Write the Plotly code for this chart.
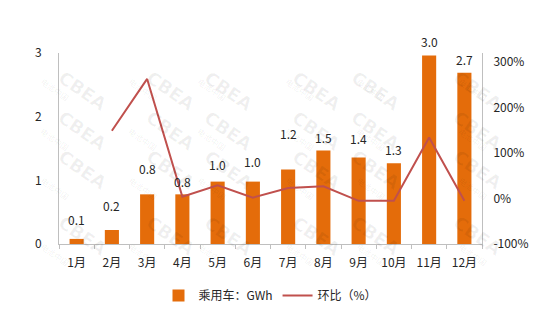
import plotly.graph_objects as go

# Monthly passenger-car battery installations (GWh) and month-on-month change (%)
months = ["1月", "2月", "3月", "4月", "5月", "6月", "7月", "8月", "9月", "10月", "11月", "12月"]
volume_gwh = [0.08, 0.22, 0.78, 0.78, 0.98, 0.98, 1.17, 1.47, 1.36, 1.27, 2.96, 2.69]
mom_pct = [None, 149, 263, 4, 29, 2, 23, 27, -5, -5, 134, -5]

# vertical offsets (px) of the value labels above each bar
label_shift = [19, 24, 26, 13, 17, 20, 36, 13, 19, 14, 14, 13]

BAR_COLOR = "#E46C0A"
LINE_COLOR = "#C0504D"
TEXT_COLOR = "#262626"
AXIS_COLOR = "#BFBFBF"
FONT = "Noto Sans CJK SC, Noto Sans, sans-serif"

fig = go.Figure()
fig.add_trace(go.Bar(
    x=months, y=volume_gwh, name="乘用车：GWh",
    marker=dict(color=BAR_COLOR, line=dict(width=0)),
    yaxis="y",
))
fig.add_trace(go.Scatter(
    x=months, y=mom_pct, name="环比（%）", mode="lines",
    line=dict(color=LINE_COLOR, width=2),
    connectgaps=False, yaxis="y2",
))

PL, PR, PT, PB = 59, 482, 53, 244


def px_to_paper(x, y):
    return (x - PL) / (PR - PL), (PB - y) / (PB - PT)


annotations = []
# faint CBEA watermark tiles
for row_y in [64, 130, 196, 262]:
    for col_x in [52, 140, 228, 316, 406, 508]:
        x, y = px_to_paper(col_x, row_y)
        annotations.append(dict(
            x=x, y=y, xref="paper", yref="paper", text="<b>CBEA</b>",
            showarrow=False, textangle=35,
            font=dict(family="DejaVu Sans, sans-serif", size=18,
                      color="rgba(0,0,0,0.06)"),
        ))
        x, y = px_to_paper(col_x - 16, row_y + 9)
        annotations.append(dict(
            x=x, y=y, xref="paper", yref="paper", text="电池中国",
            showarrow=False, textangle=35,
            font=dict(family=FONT, size=8, color="rgba(0,0,0,0.07)"),
        ))

# value labels above the bars
for m, v, s in zip(months, volume_gwh, label_shift):
    annotations.append(dict(
        x=m, y=v, xref="x", yref="y", text=f"{v:.1f}", showarrow=False,
        yanchor="middle", yshift=s,
        font=dict(family=FONT, size=12, color=TEXT_COLOR),
    ))

fig.update_layout(
    width=550, height=336,
    margin=dict(l=PL, r=550 - PR, t=PT, b=336 - PB),
    paper_bgcolor="white", plot_bgcolor="white",
    font=dict(family=FONT, size=12, color=TEXT_COLOR),
    bargap=0.6,
    showlegend=True,
    legend=dict(orientation="h", x=0.5, xanchor="center", y=-0.27, yanchor="middle",
                font=dict(family=FONT, size=12, color=TEXT_COLOR),
                itemwidth=30, tracegroupgap=0),
    xaxis=dict(
        type="category", showline=True, linecolor=AXIS_COLOR, linewidth=1,
        ticks="outside", tickson="boundaries", ticklen=4, tickcolor=AXIS_COLOR,
        showgrid=False, zeroline=False, ticklabelstandoff=8,
        tickfont=dict(family=FONT, size=12, color=TEXT_COLOR),
    ),
    yaxis=dict(
        range=[0, 3], tickvals=[0, 1, 2, 3], ticktext=["0", "1", "2", "3"],
        showline=True, linecolor=AXIS_COLOR, linewidth=1,
        showgrid=False, zeroline=False, ticks="", ticklabelstandoff=14,
        tickfont=dict(family=FONT, size=12, color=TEXT_COLOR),
    ),
    yaxis2=dict(
        overlaying="y", side="right", range=[-100, 320],
        tickvals=[-100, 0, 100, 200, 300],
        ticktext=["-100%", "0%", "100%", "200%", "300%"],
        showline=True, linecolor=AXIS_COLOR, linewidth=1,
        showgrid=False, zeroline=False, ticks="", ticklabelstandoff=8,
        tickfont=dict(family=FONT, size=12, color=TEXT_COLOR),
    ),
    annotations=annotations,
)

fig.write_html("out.html")
